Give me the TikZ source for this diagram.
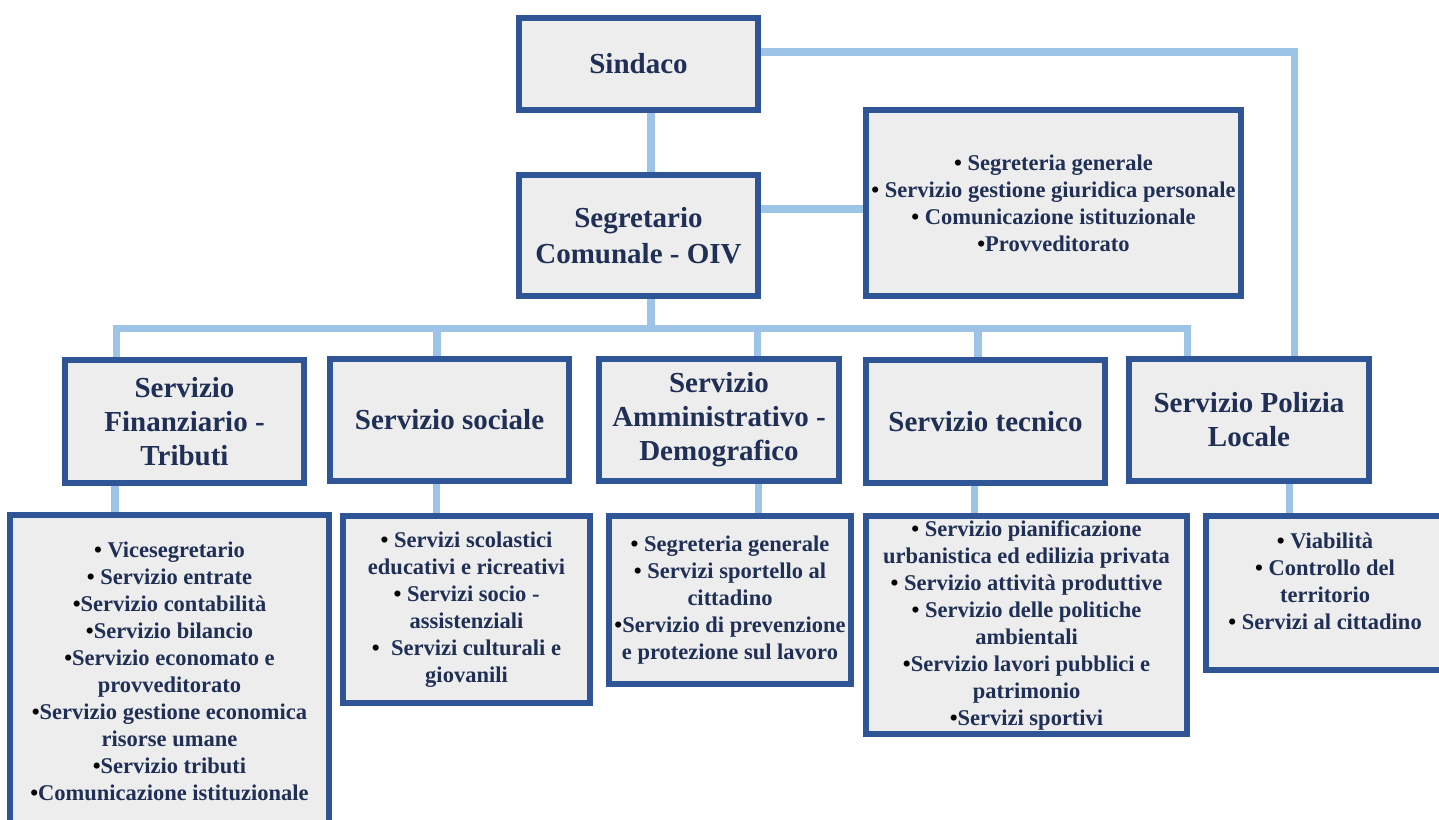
\documentclass[tikz,border=0pt]{standalone}
\usepackage{fontspec}
\setmainfont{Liberation Serif}
\usetikzlibrary{backgrounds}
\definecolor{bord}{HTML}{2F5597}
\definecolor{connc}{HTML}{9DC3E6}
\definecolor{fillg}{HTML}{EDEDED}
\definecolor{txt}{HTML}{1F2F55}
\newcommand{\bu}{\textcolor{black}{•}}
\begin{document}
\begin{tikzpicture}[x=1pt,y=-1pt,
  box/.style={draw=bord, line width=6pt, fill=fillg, inner sep=0pt, align=center, text=txt},
  head/.style={box, font=\fontsize{29}{34}\selectfont\bfseries},
  list/.style={box, font=\fontsize{22.5}{27}\selectfont\bfseries},
  listtext/.style={inner sep=0pt, align=center, text=txt, font=\fontsize{22.5}{27}\selectfont\bfseries},
  link/.style={draw=connc, line width=7.5pt, line join=miter}]
\useasboundingbox (0,0) rectangle (1439,819);
\clip (0,0) rectangle (1439,819);

% level 1
\node[head, minimum width=239pt, minimum height=92pt] (sind) at (638.5,64) {Sindaco};
\node[head, minimum width=239pt, minimum height=121pt] (seg) at (638.5,235.5) {Segretario\\[2pt] Comunale - OIV};
\node[list, minimum width=375pt, minimum height=186pt] (segl) at (1053.5,203) {\bu{} Segreteria generale\\ \bu{} Servizio gestione giuridica personale\\ \bu{} Comunicazione istituzionale\\ \bu Provveditorato};

% level 2
\node[head, minimum width=239pt, minimum height=123pt] (fin) at (184.5,421.5) {Servizio\\ Finanziario -\\ Tributi};
\node[head, minimum width=239pt, minimum height=122pt] (soc) at (449.5,420) {Servizio sociale};
\node[head, minimum width=240pt, minimum height=122pt] (amm) at (719,420) {Servizio\\ Amministrativo -\\ Demografico};
\node[head, minimum width=239pt, minimum height=123pt] (tec) at (985.5,421.5) {Servizio tecnico};
\node[head, minimum width=240pt, minimum height=122pt] (pol) at (1249,420) {Servizio Polizia\\ Locale};

% level 3
\node[list, minimum width=319pt, minimum height=312pt] (finl) at (169.5,671) {\bu{} Vicesegretario\\ \bu{} Servizio entrate\\ \bu Servizio contabilità\\ \bu Servizio bilancio\\ \bu Servizio economato e\\ provveditorato\\ \bu Servizio gestione economica\\ risorse umane\\ \bu Servizio tributi\\ \bu Comunicazione istituzionale};
\node[list, minimum width=247pt, minimum height=187pt] (socl) at (466.5,609.5) {\bu{} Servizi scolastici\\ educativi e ricreativi\\ \bu{} Servizi socio -\\ assistenziali\\ \bu{}\ \ Servizi culturali e\\ giovanili};
\node[list, minimum width=242pt, minimum height=168pt] (amml) at (730,600) {\bu{} Segreteria generale\\ \bu{} Servizi sportello al\\ cittadino\\ \bu Servizio di prevenzione\\ e protezione sul lavoro};
\node[list, minimum width=321pt, minimum height=218pt] (tecl) at (1026.5,625) {\bu{} Servizio pianificazione\\ urbanistica ed edilizia privata\\ \bu{} Servizio attività produttive\\ \bu{} Servizio delle politiche\\ ambientali\\ \bu Servizio lavori pubblici e\\ patrimonio\\ \bu Servizi sportivi};
\node[box, minimum width=238pt, minimum height=154pt] (poll) at (1325,593) {};
\node[listtext] (polltxt) at (1325,581) {\bu{} Viabilità\\ \bu{} Controllo del\\ territorio\\ \bu{} Servizi al cittadino};

% connector coordinates
\coordinate (xa) at (651,0);
\coordinate (sp) at (1294.5,52);
\coordinate (sr) at (800,209);
\coordinate (bus) at (651,328.5);
\coordinate (b1) at (116.5,328.5);
\coordinate (b2) at (437,328.5);
\coordinate (b3) at (757.5,328.5);
\coordinate (b4) at (978,328.5);
\coordinate (b5) at (1187.5,328.5);
\coordinate (d1) at (115,0);
\coordinate (d2) at (436.7,0);
\coordinate (d3) at (758.3,0);
\coordinate (d4) at (974.6,0);
\coordinate (d5) at (1289.7,0);

\begin{pgfonlayer}{background}
\draw[link] (xa |- sind.south) -- (xa |- seg.north);
\draw[link] (sind.east |- sp) -- (sp) -- (sp |- pol.north);
\draw[link] (seg.east |- sr) -- (segl.west |- sr);
\draw[link] (xa |- seg.south) -- (bus);
\draw[link] (b1 |- fin.north) -- (b1) -- (b5) -- (b5 |- pol.north);
\draw[link] (b2) -- (b2 |- soc.north);
\draw[link] (b3) -- (b3 |- amm.north);
\draw[link] (b4) -- (b4 |- tec.north);
\draw[link] (d1 |- fin.south) -- (d1 |- finl.north);
\draw[link] (d2 |- soc.south) -- (d2 |- socl.north);
\draw[link] (d3 |- amm.south) -- (d3 |- amml.north);
\draw[link] (d4 |- tec.south) -- (d4 |- tecl.north);
\draw[link] (d5 |- pol.south) -- (d5 |- poll.north);
\end{pgfonlayer}
\end{tikzpicture}
\end{document}
